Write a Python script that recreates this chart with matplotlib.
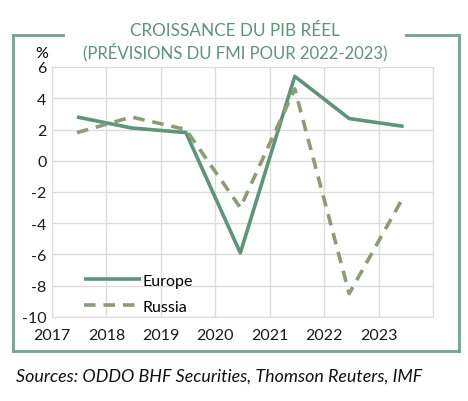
import matplotlib.pyplot as plt
from matplotlib.lines import Line2D

# data
years = [2017, 2018, 2019, 2020, 2021, 2022, 2023]
europe = [2.8, 2.1, 1.8, -5.9, 5.4, 2.7, 2.2]
russia = [1.8, 2.8, 2.0, -3.0, 4.6, -8.5, -2.3]
yticks = [6, 4, 2, 0, -2, -4, -6, -8, -10]

green = '#5e9479'
olive = '#8a9c78'
frame_col = '#74a48e'

plt.rcParams['font.family'] = ['Lato', 'DejaVu Sans']

W, H = 468, 402
fig = plt.figure(figsize=(W / 100, H / 100), dpi=100)
ax = fig.add_axes([52 / W, 1 - 318 / H, (433 - 52) / W, (318 - 68) / H])

xs = [y + 0.46 for y in years]
ax.plot(xs, europe, color=green, lw=2.6, solid_capstyle='butt', label='Europe')
ax.plot(xs, russia, color=olive, lw=2.6, ls=(0, (3.2, 2.2)), label='Russia')

ax.set_xlim(2017, 2024)
ax.set_ylim(-10, 6)
ax.set_xticks(range(2017, 2025))
ax.set_xticklabels([str(y) for y in years] + [''])
ax.set_yticks(yticks)
ax.set_yticklabels([str(t) for t in yticks])
ax.grid(True, color='#dcdcdc', lw=1)
ax.set_axisbelow(True)
for s in ax.spines.values():
    s.set_color('#dcdcdc')
ax.tick_params(length=0, labelsize=11.5, colors='#1a1a1a')
ax.tick_params(axis='x', pad=8)
ax.tick_params(axis='y', pad=4)

ax.text(-0.028, 1.03, '%', transform=ax.transAxes, fontsize=11.5, ha='center', va='bottom')

leg = ax.legend(loc='lower left', bbox_to_anchor=(0.045, -0.045), frameon=False,
                fontsize=11.5, handlelength=3.6, labelspacing=0.75, handletextpad=0.1)

# outer frame with gap for title
fy_top = 1 - 36 / H
fy_bot = 1 - 352 / H
fx_l, fx_r = 13 / W, 459 / W
kw = dict(color=frame_col, lw=2, transform=fig.transFigure)
fig.add_artist(Line2D([fx_l, fx_l], [fy_bot, fy_top], **kw))
fig.add_artist(Line2D([fx_r, fx_r], [fy_bot, fy_top], **kw))
fig.add_artist(Line2D([fx_l, fx_r], [fy_bot, fy_bot], **kw))
fig.add_artist(Line2D([fx_l, 63 / W], [fy_top, fy_top], **kw))
fig.add_artist(Line2D([406 / W, fx_r], [fy_top, fy_top], **kw))

fig.text(235 / W, 1 - 31 / H, 'CROISSANCE DU PIB RÉEL', ha='center', va='center',
         fontsize=12.3, color=green)
fig.text(235 / W, 1 - 52 / H, '(PRÉVISIONS DU FMI POUR 2022-2023)', ha='center', va='center',
         fontsize=12.1, color=green)

fig.text(16 / W, 1 - 377 / H, 'Sources: ODDO BHF Securities, Thomson Reuters, IMF',
         ha='left', va='center', fontsize=12.9, style='italic', color='#111111')

fig.savefig('out.png', dpi=100)
